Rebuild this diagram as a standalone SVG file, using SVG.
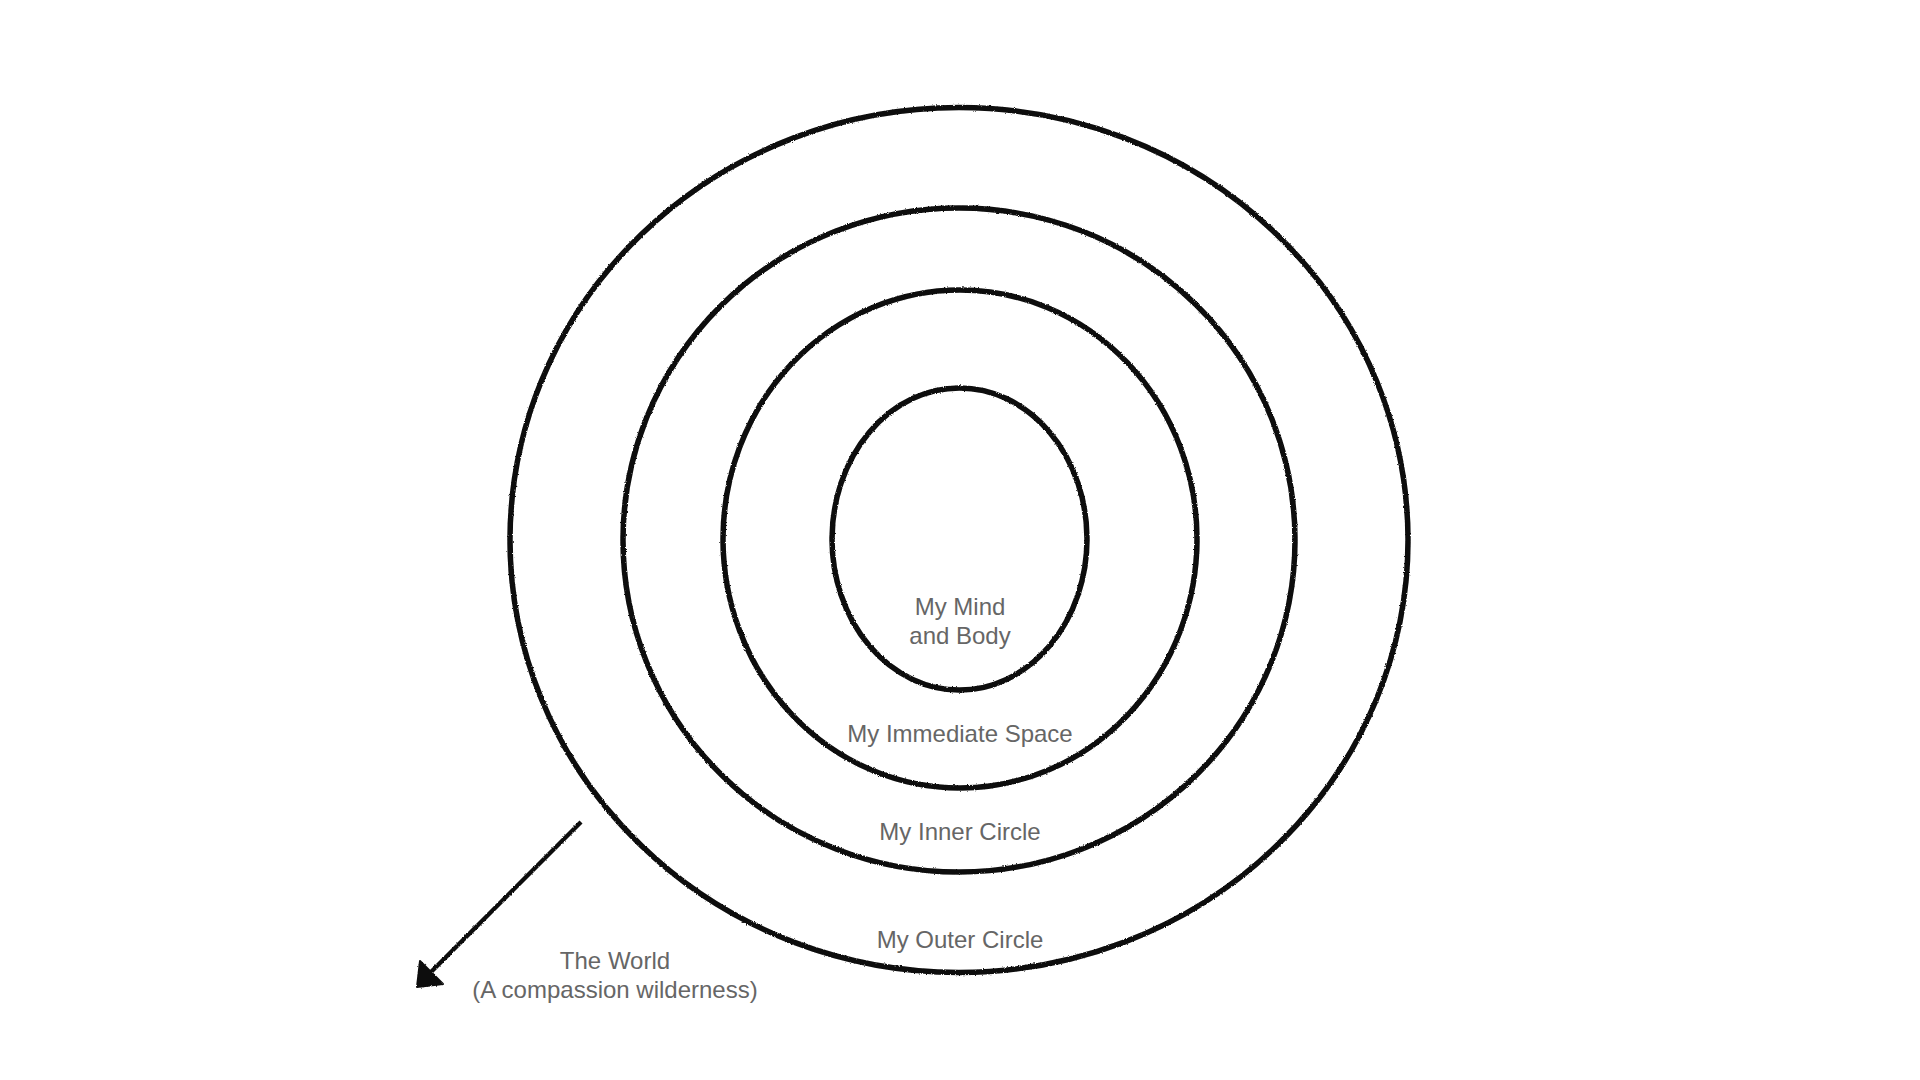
<svg xmlns="http://www.w3.org/2000/svg" width="1920" height="1080" viewBox="0 0 1920 1080">
  <style>
    .ring { fill: none; stroke: #0a0a0a; stroke-width: 5.5; filter: url(#rough); }
    .label { font-family: "Liberation Sans", Arial, sans-serif; font-size: 24px; fill: #666; text-anchor: middle; }
    .conn { stroke: #0a0a0a; stroke-width: 4.2; fill: none; filter: url(#rough); }
  </style>
  <defs>
    <filter id="rough" x="-5%" y="-5%" width="110%" height="110%">
      <feTurbulence type="fractalNoise" baseFrequency="0.9" numOctaves="2" seed="3" result="n"/>
      <feDisplacementMap in="SourceGraphic" in2="n" scale="2.4" xChannelSelector="R" yChannelSelector="G"/>
    </filter>
  </defs>
  <rect width="1920" height="1080" fill="#fff"/>

  <g id="outer-circle">
    <ellipse class="ring" cx="959" cy="540" rx="449" ry="432.5"/>
    <text class="label" x="960" y="948">My Outer Circle</text>
  </g>
  <g id="inner-circle">
    <ellipse class="ring" cx="959" cy="540" rx="336" ry="332"/>
    <text class="label" x="960" y="840">My Inner Circle</text>
  </g>
  <g id="immediate-space">
    <ellipse class="ring" cx="960" cy="539" rx="237" ry="249"/>
    <text class="label" x="960" y="742">My Immediate Space</text>
  </g>
  <g id="mind-body">
    <ellipse class="ring" cx="959.5" cy="539" rx="127.5" ry="151"/>
    <text class="label" x="960" y="615">My Mind</text>
    <text class="label" x="960" y="644">and Body</text>
  </g>
  <g id="world">
    <text class="label" x="615" y="969">The World</text>
    <text class="label" x="615" y="998">(A compassion wilderness)</text>
  </g>

  <g id="connectors">
    <line class="conn" x1="581" y1="822" x2="427" y2="976"/>
    <polygon points="417,987 420,961 443,984" fill="#0a0a0a" stroke="#0a0a0a" stroke-width="2" stroke-linejoin="round" filter="url(#rough)"/>
  </g>
</svg>
